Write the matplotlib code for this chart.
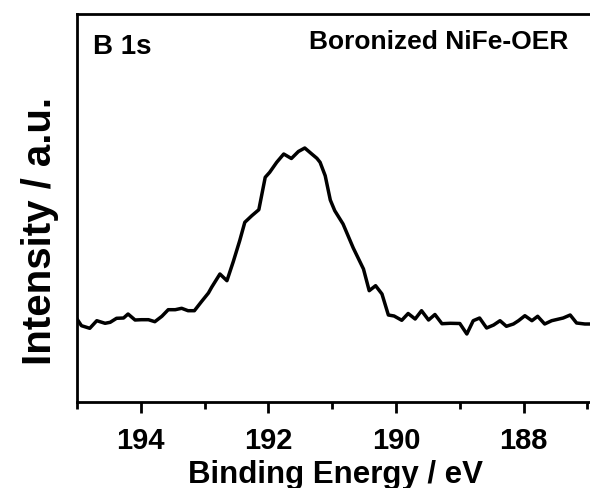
import matplotlib
matplotlib.use("Agg")
import matplotlib.pyplot as plt
from matplotlib.ticker import MultipleLocator

plt.rcParams['font.family'] = ['Liberation Sans', 'DejaVu Sans']
plt.rcParams['font.weight'] = 'bold'

# B 1s spectrum (binding energy in eV, intensity in a.u.)
energy = [195.00, 194.93, 194.80, 194.69, 194.56, 194.48, 194.38, 194.27, 194.20, 194.09,
          193.99, 193.88, 193.78, 193.67, 193.57, 193.46, 193.36, 193.26, 193.16, 193.05,
          192.94, 192.89, 192.76, 192.65, 192.55, 192.45, 192.37, 192.26, 192.15, 192.05,
          191.98, 191.87, 191.76, 191.64, 191.53, 191.43, 191.32, 191.24, 191.19, 191.11,
          191.03, 190.96, 190.83, 190.67, 190.51, 190.42, 190.32, 190.22, 190.12, 190.03,
          189.91, 189.81, 189.70, 189.60, 189.49, 189.39, 189.28, 189.15, 189.00, 188.89,
          188.79, 188.69, 188.58, 188.47, 188.37, 188.27, 188.16, 188.08, 187.98, 187.87,
          187.78, 187.67, 187.56, 187.38, 187.27, 187.17, 187.04, 186.96]
intensity = [83.0, 76.3, 73.7, 81.3, 78.7, 79.7, 83.7, 84.0, 88.0, 82.0,
             82.3, 82.3, 80.3, 85.7, 92.3, 92.3, 93.7, 91.3, 91.3, 100.3,
             109.0, 114.7, 128.0, 121.3, 140.5, 161.3, 179.7, 186.3, 192.3, 224.7,
             229.7, 239.7, 248.0, 243.5, 250.5, 254.0, 248.0, 243.7, 239.7, 226.3,
             202.0, 191.3, 178.0, 154.0, 133.0, 111.3, 116.3, 108.0, 87.0, 86.0,
             81.7, 88.5, 83.0, 91.3, 82.0, 87.5, 78.3, 78.7, 78.5, 68.0,
             81.3, 84.0, 74.0, 77.0, 81.3, 75.7, 78.0, 81.3, 86.3, 81.3,
             85.7, 78.0, 81.3, 84.0, 87.0, 79.0, 78.0, 78.0]

major_ticks = [194, 192, 190, 188]

fig = plt.figure(figsize=(5.9, 4.89), dpi=100)
ax = fig.add_axes([77/590, 86/489, 516.8/590, 388/489])
ax.plot(energy, intensity, color='black', linewidth=2.5)

ax.set_xlim(195, 186.9)
ax.set_ylim(0, 388)
ax.set_xticks(major_ticks)
ax.xaxis.set_minor_locator(MultipleLocator(1))
ax.set_yticks([])
ax.tick_params(axis='x', which='major', direction='out', length=8, width=2,
               labelsize=21, pad=9)
ax.tick_params(axis='x', which='minor', direction='out', length=5, width=2)
for lab in ax.get_xticklabels():
    lab.set_fontweight('bold')
for sp in ax.spines.values():
    sp.set_linewidth(2)

ax.set_xlabel('Binding Energy / eV', fontsize=22.5, fontweight='bold', labelpad=4)
fig.text(40/590, 1 - 231/489, 'Intensity / a.u.', rotation=90, fontsize=29,
         fontweight='bold', ha='center', va='center')

ax.text(0.031, 0.918, 'B 1s', transform=ax.transAxes, fontsize=20,
        fontweight='bold', ha='left', va='center')
ax.text(0.950, 0.93, 'Boronized NiFe-OER', transform=ax.transAxes, fontsize=19,
        fontweight='bold', ha='right', va='center')

fig.savefig('out.png', dpi=100)
